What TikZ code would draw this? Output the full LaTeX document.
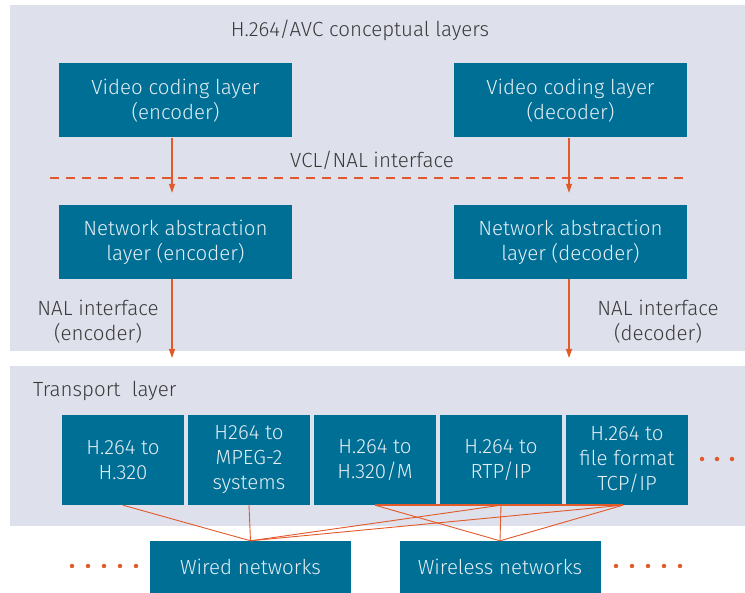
\documentclass[tikz,border=0pt]{standalone}
\usepackage{fontspec}
\setmainfont{Fira Sans Light}
\usetikzlibrary{arrows.meta}
\definecolor{panelgray}{HTML}{DEE0EB}
\definecolor{boxteal}{HTML}{006F96}
\definecolor{boxtext}{HTML}{E4EEF3}
\definecolor{linkorange}{HTML}{E2592A}
\definecolor{labelgray}{HTML}{3A3A3A}
\tikzset{
  layerbox/.style={fill=boxteal, text=boxtext, inner sep=0pt, align=center,
    font=\fontsize{20.5}{25}\selectfont},
  wide/.style={minimum width=233pt, minimum height=74pt},
  narrow/.style={minimum width=122pt, minimum height=90pt},
  netbox/.style={minimum width=201pt, minimum height=52pt},
  caption/.style={text=labelgray, inner sep=0pt, align=center,
    font=\fontsize{20.5}{25}\selectfont},
  flow/.style={linkorange, line width=1.1pt, -{Triangle[length=9pt,width=6pt]}},
  link/.style={linkorange, line width=0.9pt},
  dot/.style={circle, fill=linkorange, inner sep=0pt, minimum size=4.5pt}
}
\begin{document}
\begin{tikzpicture}[x=1pt, y=-1pt]
\useasboundingbox (0,0) rectangle (745,593);
% background panels
\fill[panelgray] (10,5) rectangle (745,351);
\fill[panelgray] (10,366) rectangle (745,526);

% conceptual layers
\node[caption] (title) at (360,30) {H.264/AVC conceptual layers};
\node[layerbox, wide] (vcle) at (175.5,100.5) {Video coding layer\\(encoder)};
\node[layerbox, wide] (vcld) at (570.5,100.5) {Video coding layer\\(decoder)};
\node[caption] (vclnal) at (372,160) {VCL/NAL interface};
\draw[linkorange, line width=1.4pt, dash pattern=on 9pt off 7pt] (50,178) -- (690,178);
\node[layerbox, wide] (nale) at (175.5,242) {Network abstraction\\layer (encoder)};
\node[layerbox, wide] (nald) at (570.5,242) {Network abstraction\\layer (decoder)};

\draw[flow] ([xshift=-3.5pt]vcle.south) -- ([xshift=-3.5pt,yshift=12pt]nale.north);
\draw[flow] ([xshift=-1.5pt]vcld.south) -- ([xshift=-1.5pt,yshift=12pt]nald.north);

\node[caption] (nalenc) at (98,322) {NAL interface\\(encoder)};
\node[caption] (naldec) at (658,322) {NAL interface\\(decoder)};
\coordinate (encout) at (172,358);
\coordinate (decout) at (569,358);
\draw[flow] ([xshift=-3.5pt]nale.south) -- (encout);
\draw[flow] ([xshift=-1.5pt]nald.south) -- (decout);

% transport layer
\node[caption, anchor=west] (transport) at (33,391) {Transport\ \ layer};
\node[layerbox, narrow] (t1) at (123,460) {H.264 to\\H.320};
\node[layerbox, narrow] (t2) at (249,460) {H264 to\\MPEG-2\\systems};
\node[layerbox, narrow] (t3) at (375,460) {H.264 to\\H.320/M};
\node[layerbox, narrow] (t4) at (501,460) {H.264 to\\RTP/IP};
\node[layerbox, narrow] (t5) at (627,460) {H.264 to\\file format\\TCP/IP};
\foreach \x [count=\i] in {702,717,732} \node[dot] (tdot\i) at (\x,459) {};

% networks
\node[layerbox, netbox] (wired) at (250.5,567) {Wired networks};
\node[layerbox, netbox] (wireless) at (500,567) {Wireless networks};
\foreach \x [count=\i] in {72,88,104,120,136} \node[dot] (ldot\i) at (\x,566) {};
\foreach \x [count=\i] in {616,632,648,664,680} \node[dot] (rdot\i) at (\x,566) {};

% links between transport mappings and networks
\coordinate (w1) at (wired.north);
\coordinate (w2) at (wireless.north);
\draw[link] (t1.south) -- (w1);
\draw[link] (t2.south) -- (w1);
\draw[link] (t4.south) -- (w1);
\draw[link] ([xshift=-4pt]t5.south) -- (w1);
\draw[link] (t3.south) -- (w2);
\draw[link] (t4.south) -- (w2);
\draw[link] ([xshift=-4pt]t5.south) -- (w2);
\draw[link, line width=1.4pt] (t3.south) -- ([xshift=-4pt]t5.south);
\end{tikzpicture}
\end{document}
